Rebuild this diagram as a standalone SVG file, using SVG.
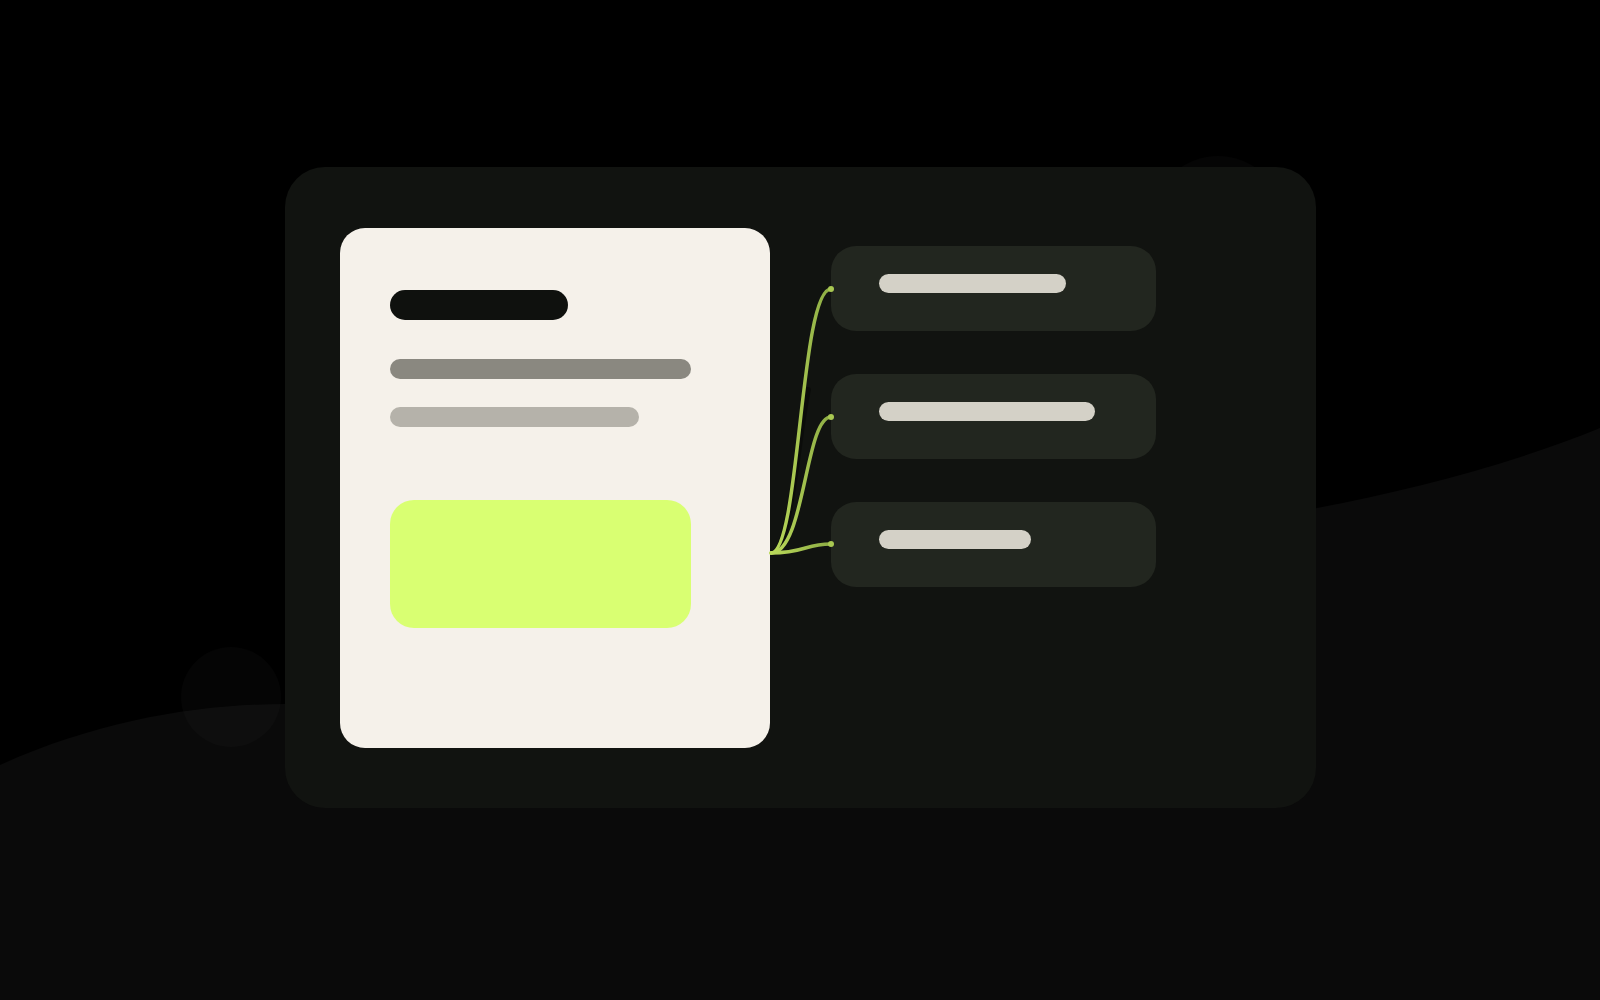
<svg xmlns="http://www.w3.org/2000/svg" width="1600" height="1000" viewBox="0 0 1600 1000">
  <defs>
    <style>
      .bgcircle { fill: #ffffff; fill-opacity: 0.018; }
      .box { fill: #22261f; }
      .boxbar { fill: #d4d1c7; }
      .conn { fill: none; stroke: url(#cg); stroke-width: 3.5; stroke-linecap: round; }
      .shade { fill: none; stroke: #000000; stroke-opacity: 0.35; stroke-width: 6; stroke-linecap: round; }
      .dot { fill: #a9c852; }
    </style>
    <linearGradient id="cg" gradientUnits="userSpaceOnUse" x1="771" y1="0" x2="831" y2="0">
      <stop offset="0" stop-color="#bad95a"/>
      <stop offset="1" stop-color="#8dac44"/>
    </linearGradient>
  </defs>

  <g id="background">
    <rect x="0" y="0" width="1600" height="1000" fill="#000000"/>
    <path d="M0,765 C100,720 200,704 285,704 C700,704 1000,600 1317,508 C1410,490 1510,465 1600,428 L1600,1000 L0,1000 Z" fill="#0a0a0a"/>
    <circle class="bgcircle" cx="231" cy="697" r="50"/>
    <circle class="bgcircle" cx="1218" cy="222" r="66"/>
  </g>

  <g id="panel">
    <rect x="285" y="167" width="1031" height="641" rx="40" fill="#111310"/>
  </g>

  <g id="card">
    <rect x="340" y="228" width="430" height="520" rx="25" fill="#f5f1ea"/>
    <rect x="390" y="290" width="178" height="30" rx="15" fill="#0f110e"/>
    <rect x="390" y="359" width="301" height="20" rx="10" fill="#8a8880"/>
    <rect x="390" y="407" width="249" height="20" rx="10" fill="#b5b2aa"/>
    <rect x="390" y="500" width="301" height="128" rx="24" fill="#d9ff72"/>
  </g>

  <g id="option-1">
    <rect class="box" x="831" y="246" width="325" height="85" rx="25"/>
    <rect class="boxbar" x="879" y="274" width="187" height="19" rx="9.5"/>
  </g>
  <g id="option-2">
    <rect class="box" x="831" y="374" width="325" height="85" rx="25"/>
    <rect class="boxbar" x="879" y="402" width="216" height="19" rx="9.5"/>
  </g>
  <g id="option-3">
    <rect class="box" x="831" y="502" width="325" height="85" rx="25"/>
    <rect class="boxbar" x="879" y="530" width="152" height="19" rx="9.5"/>
  </g>

  <g id="connectors">
    <path class="shade" d="M773,553 C790,553 800,420 808,390"/>
    <path class="conn" d="M771,553 C800,553 800,289 831,289"/>
    <path class="conn" d="M771,553 C805,553 805,417 831,417"/>
    <path class="conn" d="M771,553 C805,553 805,544 831,544"/>
    <circle class="dot" cx="831" cy="289" r="3"/>
    <circle class="dot" cx="831" cy="417" r="3"/>
    <circle class="dot" cx="831" cy="544" r="3"/>
  </g>
</svg>
